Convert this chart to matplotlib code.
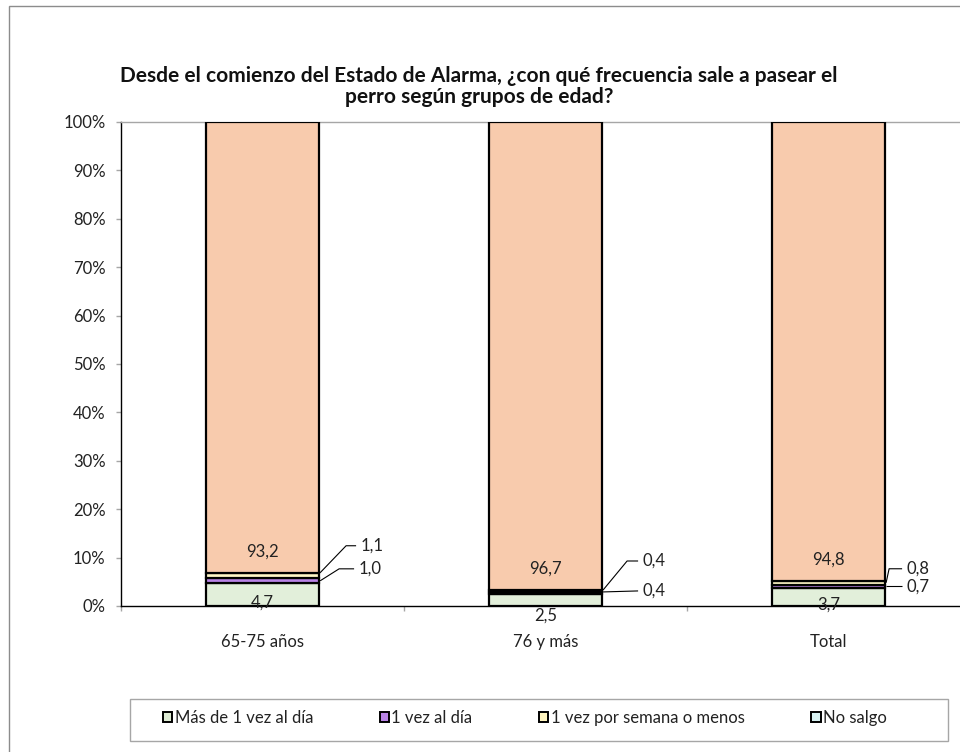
import matplotlib
matplotlib.use("Agg")
import matplotlib.pyplot as plt
from matplotlib.patches import Rectangle, Patch
import numpy as np

plt.rcParams['font.family'] = ['Lato', 'DejaVu Sans']

# ---- data ----
categories = ["65-75 años", "76 y más", "Total"]
no_salgo = [4.7, 2.5, 3.7]
una_vez_dia = [1.0, 0.4, 0.7]
una_vez_semana = [1.1, 0.4, 0.8]
mas_de_una = [93.2, 96.7, 94.8]

series_names = ["Más de 1 vez al día", "1 vez al día",
                "1 vez por semana o menos", "No salgo"]
title = ("Desde el comienzo del Estado de Alarma, ¿con qué frecuencia sale a pasear el\n"
         "perro según grupos de edad?")

# ---- styling ----
c_green = "#E2EFDA"
c_purple = "#B983E6"
c_yellow = "#FFF8C8"
c_peach = "#F8CBAD"
legend_colors = ["#DDEBD3", "#B983E6", "#FFF5BF", "#D6F0F0"]

W, H = 960, 752
fig = plt.figure(figsize=(W / 100, H / 100), dpi=100)
ax = fig.add_axes([121 / W, 1 - 606 / H, 849 / W, 484 / H])

x = np.arange(len(categories))
bw = 0.4
edge = dict(edgecolor="black", linewidth=1.6)

bottom = np.zeros(len(categories))
stack = [(no_salgo, c_green), (una_vez_dia, c_purple),
         (una_vez_semana, c_yellow), (mas_de_una, c_peach)]
bottoms = []
for vals, col in stack:
    bottoms.append(bottom.copy())
    ax.bar(x, vals, bw, bottom=bottom, color=col, zorder=3, **edge)
    bottom = bottom + np.array(vals)

ax.set_xlim(-0.5, 2.5)
ax.set_ylim(0, 100)

# axes look
ax.spines["right"].set_visible(False)
ax.spines["top"].set_color("#A6A6A6")
ax.spines["top"].set_linewidth(1.0)
ax.spines["left"].set_color("black")
ax.spines["left"].set_linewidth(1.0)
ax.spines["bottom"].set_color("black")
ax.spines["bottom"].set_linewidth(1.0)
ax.spines["bottom"].set_zorder(4)

txt_fs = 12
ax.set_yticks(np.arange(0, 101, 10))
ax.set_yticklabels([f"{v}%" for v in range(0, 101, 10)], fontsize=txt_fs)
ax.tick_params(axis="y", direction="out", length=3.6, width=1, color="#A6A6A6",
               pad=7.5, labelcolor="#222222")
ax.set_xticks(x)
ax.set_xticklabels(categories, fontsize=txt_fs, color="#222222")
ax.tick_params(axis="x", which="major", length=0, pad=20)
ax.set_xticks(np.arange(-0.5, 2.6, 1.0), minor=True)
ax.tick_params(axis="x", which="minor", direction="out", length=3.6, width=1,
               color="#A6A6A6")

lab_fs = 12
fmt = lambda v: f"{v:.1f}".replace(".", ",")

# big segment labels near the base of the top segment
for i in range(len(categories)):
    base = bottoms[3][i]
    ax.annotate(fmt(mas_de_una[i]), xy=(x[i], base), xytext=(0, 21),
                textcoords="offset pixels", ha="center", va="center",
                fontsize=lab_fs, color="#222222", zorder=6)

# "No salgo" labels sitting on the axis line
green_offsets = [3, -10, 1]
for i in range(len(categories)):
    ax.annotate(fmt(no_salgo[i]), xy=(x[i], bottoms[0][i]),
                xytext=(0, green_offsets[i]),
                textcoords="offset pixels", ha="center", va="center",
                fontsize=lab_fs, color="#222222", zorder=6)

# small segment labels with leader lines to the right of each bar
# (series index, category, anchor dy, elbow (dx, dy), line end dx) in pixels
leaders = [
    (2, 0, 3, (26, 27), 36),
    (1, 0, 0, (19, 12), 34),
    (2, 1, 1, (24, 29), 35),
    (1, 1, 1, (35, 1), 35),
    (2, 2, 0, (3, 14), 16),
    (1, 2, 0, (16, 0), 16),
]
series_vals = [no_salgo, una_vez_dia, una_vez_semana, mas_de_una]
inv = ax.transData.inverted()
for si, ci, ady, (ex, ey), lx in leaders:
    v = series_vals[si][ci]
    mid = bottoms[si][ci] + v / 2
    ax_px = ax.transData.transform((x[ci] + bw / 2, mid))
    p0 = ax_px + np.array([1, ady])
    p1 = p0 + np.array([ex, ey])
    p2 = np.array([p0[0] + lx, p1[1]])
    pts = inv.transform(np.vstack([p0, p1, p2]))
    ax.plot(pts[:, 0], pts[:, 1], color="black", lw=0.8, zorder=5,
            clip_on=False, solid_capstyle="butt")
    tx, ty = inv.transform(p2 + np.array([4, 0]))
    ax.text(tx, ty, fmt(v), ha="left", va="center", fontsize=lab_fs,
            color="#222222", zorder=6)

fig.suptitle(title, x=479 / W, y=1 - 66 / H, fontsize=15, fontweight="bold",
             color="#111111", linespacing=1.08, va="top")

# legend
handles = [Patch(facecolor=c, edgecolor="black", linewidth=1.4) for c in legend_colors]
leg = fig.legend(handles, series_names, loc="center", ncol=4,
                 bbox_to_anchor=(525 / W, 1 - 718 / H), frameon=False,
                 fontsize=txt_fs, handlelength=0.55, handleheight=0.55,
                 handletextpad=0.15, columnspacing=4.0)
for t in leg.get_texts():
    t.set_color("#222222")

fig.add_artist(Rectangle((130 / W, 1 - 741 / H), 818 / W, 42 / H,
                         transform=fig.transFigure, fill=False,
                         edgecolor="#A6A6A6", linewidth=1.0))
fig.add_artist(Rectangle((9 / W, -0.1), 1.2, (1 - 6 / H) + 0.1,
                         transform=fig.transFigure, fill=False,
                         edgecolor="#8C8C8C", linewidth=1.0))

fig.savefig("out.png", dpi=100)
